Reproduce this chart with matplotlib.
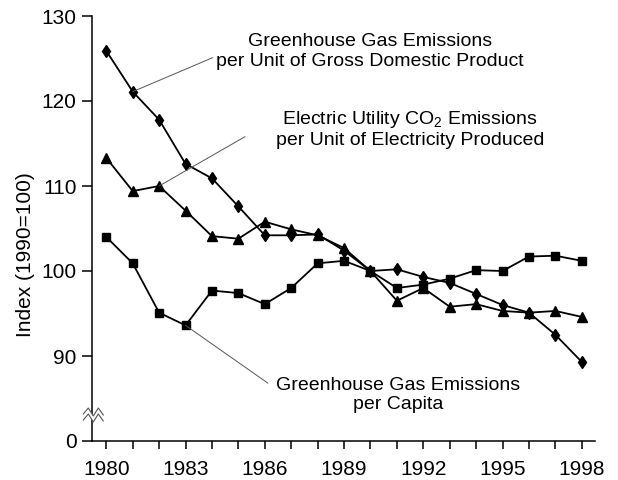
import matplotlib
matplotlib.use("Agg")
import matplotlib.pyplot as plt
from matplotlib.ticker import FixedLocator

plt.rcParams['font.family'] = ['Liberation Sans', 'DejaVu Sans']
plt.rcParams['mathtext.fontset'] = 'custom'
plt.rcParams['mathtext.rm'] = 'Liberation Sans'
plt.rcParams['mathtext.it'] = 'Liberation Sans:italic'

years = list(range(1980, 1999))
ghg_per_gdp = [125.9, 121.1, 117.8, 112.6, 110.9, 107.6, 104.2, 104.2, 104.3, 102.4,
               100.0, 100.2, 99.3, 98.6, 97.3, 96.0, 95.1, 92.5, 89.3]
co2_per_elec = [113.3, 109.4, 110.0, 107.1, 104.1, 103.8, 105.8, 104.9, 104.2, 102.7,
                100.0, 96.5, 98.0, 95.8, 96.1, 95.3, 95.1, 95.3, 94.6]
ghg_per_capita = [104.0, 100.9, 95.1, 93.6, 97.7, 97.4, 96.1, 98.0, 100.9, 101.2,
                  100.0, 98.0, 98.4, 99.1, 100.1, 100.0, 101.7, 101.8, 101.2]

ytick_vals = [80, 90, 100, 110, 120, 130]
ytick_labels = ['0', '90', '100', '110', '120', '130']
xtick_labels = [1980, 1983, 1986, 1989, 1992, 1995, 1998]

fig = plt.figure(figsize=(6.18, 4.8), dpi=100)
ax = fig.add_axes([92.3 / 618, 1 - 441 / 480, (595 - 92.3) / 618, 425 / 480])

lw = 1.3
ax.plot(years, ghg_per_gdp, color='black', lw=lw, marker='d', ms=6.4, zorder=3)
ax.plot(years, co2_per_elec, color='black', lw=lw, marker='^', ms=7.0, zorder=3)
ax.plot(years, ghg_per_capita, color='black', lw=lw, marker='s', ms=5.2, zorder=3)

ax.set_xlim(1979.47, 1998.5)
ax.set_ylim(80, 130)
ax.spines['top'].set_visible(False)
ax.spines['right'].set_visible(False)
for s in ('left', 'bottom'):
    ax.spines[s].set_linewidth(1.1)

ax.yaxis.set_major_locator(FixedLocator(ytick_vals))
ax.set_yticklabels(ytick_labels)
ax.xaxis.set_major_locator(FixedLocator(xtick_labels))
ax.xaxis.set_minor_locator(FixedLocator(years))
ax.tick_params(axis='y', length=7.2, width=1.1, pad=4, labelsize=15)
ax.tick_params(axis='x', which='both', length=6, width=1.1, pad=8, labelsize=15)
ax.set_ylabel('Index (1990=100)', fontsize=15)
ax.yaxis.set_label_coords(-0.114, 0.438)

# annotations with leader lines
lead = dict(arrowstyle='-', color='#555555', lw=0.7, shrinkA=0, shrinkB=0)
ax.annotate('', xy=(years[1], ghg_per_gdp[1]), xytext=(1984.03, 125.1), arrowprops=lead)
ax.text(1989.98, 125.8, 'Greenhouse Gas Emissions\nper Unit of Gross Domestic Product',
        ha='center', va='center', multialignment='center', fontsize=14)

ax.annotate('', xy=(years[2], co2_per_elec[2]), xytext=(1985.25, 115.8), arrowprops=lead)
ax.text(1991.5, 116.7, 'Electric Utility CO$_2$ Emissions\nper Unit of Electricity Produced',
        ha='center', va='center', multialignment='center', fontsize=14)

ax.annotate('', xy=(years[3], ghg_per_capita[3]), xytext=(1986.12, 86.8), arrowprops=lead)
ax.text(1991.04, 85.4, 'Greenhouse Gas Emissions\nper Capita',
        ha='center', va='center', multialignment='center', fontsize=14)

# axis break symbol
tr = ax.transAxes
w, h = (595 - 92.3), 425.0
bx = [-9, -4, 1, 6, 11]
up = [27, 33, 25, 33, 26]
lo = [v - 6 for v in up]
ax.fill_between([x / w for x in bx], [v / h for v in lo], [v / h for v in up],
                transform=tr, color='white', clip_on=False, zorder=4, lw=0)
ax.plot([x / w for x in bx], [v / h for v in up], transform=tr, color='#555555',
        lw=0.8, clip_on=False, zorder=5)
ax.plot([x / w for x in bx], [v / h for v in lo], transform=tr, color='#555555',
        lw=0.8, clip_on=False, zorder=5)

fig.savefig('out.png', dpi=100)
